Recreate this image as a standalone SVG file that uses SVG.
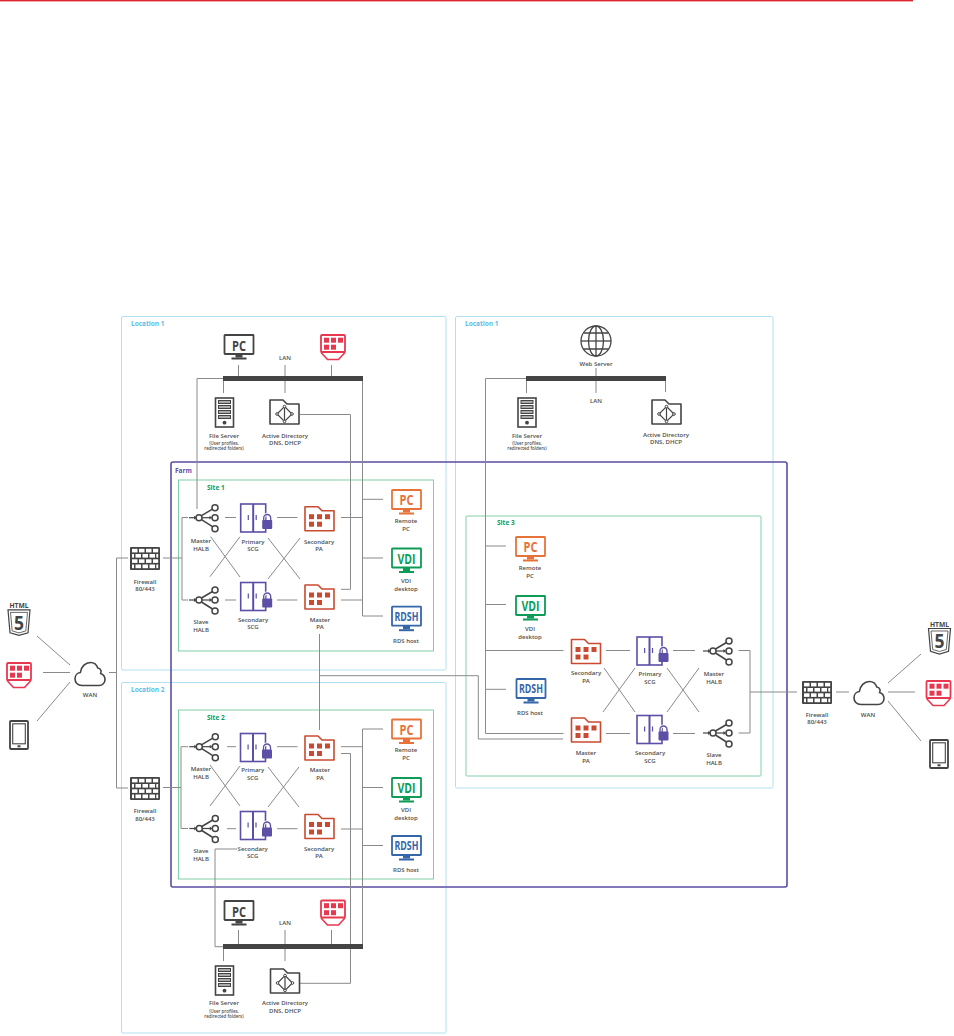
<svg xmlns="http://www.w3.org/2000/svg" width="954" height="1036" viewBox="0 0 954 1036">
<style>
text{font-family:"Open Sans","Liberation Sans",sans-serif}
.l{font-size:6px;font-weight:600;fill:#4d4d4d;text-anchor:middle}
.s{font-size:4.4px;font-weight:600;fill:#4d4d4d;text-anchor:middle}
.t{font-size:6.5px;font-weight:700}
.m{font-weight:700;text-anchor:middle}
.loc{fill:none;stroke:#a9dcf1;stroke-width:.9}
.site{fill:none;stroke:#74c9a0;stroke-width:.9}
.farm{fill:none;stroke:#5b4ea2;stroke-width:1.6}
.c line,.c path{fill:none;stroke:#8a8a8a;stroke-width:1}
.dk{color:#444}.or{color:#e8733a}.gr{color:#0e9b56}.bl{color:#3566a9}.rd{color:#c94a30}.pu{color:#5d4fa5}.pk{color:#e8384f}
</style>
<defs>
<g id="mon"><rect x="1" y="1" width="29" height="19" rx=".5" fill="#fff" stroke="currentColor" stroke-width="1.8"/><rect x="12" y="20" width="7" height="3.5" fill="currentColor"/><rect x="8" y="23.5" width="15" height="2" fill="currentColor"/></g>
<g id="pa"><path d="M1 1H14L18 5H30V25H1Z" fill="#fff" stroke="currentColor" stroke-width="1.6" stroke-linejoin="round"/><g fill="currentColor"><rect x="5" y="8.5" width="5" height="5"/><rect x="13" y="8.5" width="5" height="5"/><rect x="21" y="8.5" width="5" height="5"/><rect x="5" y="16" width="5" height="5"/><rect x="13" y="16" width="5" height="5"/></g></g>
<g id="ad"><path d="M1 1H14L18 5H30V25H1Z" fill="#fff" stroke="currentColor" stroke-width="1.6" stroke-linejoin="round"/><path d="M15.5 7.5L23 15L15.5 22.5L8 15Z" fill="none" stroke="currentColor" stroke-width="1.2"/><line x1="15.5" y1="7" x2="15.5" y2="23" stroke="currentColor" stroke-width="1.2"/><g fill="#fff" stroke="currentColor" stroke-width="1"><circle cx="15.5" cy="7.5" r="1.3"/><circle cx="23" cy="15" r="1.3"/><circle cx="15.5" cy="22.5" r="1.3"/><circle cx="8" cy="15" r="1.3"/></g></g>
<g id="scg"><rect x="1" y="1" width="25" height="28" fill="#fff" stroke="currentColor" stroke-width="1.6"/><line x1="13.5" y1="1" x2="13.5" y2="29" stroke="currentColor" stroke-width="2"/><line x1="8.6" y1="12" x2="8.6" y2="17" stroke="currentColor" stroke-width="1.2"/><line x1="16.5" y1="12" x2="16.5" y2="17" stroke="currentColor" stroke-width="1.2"/><path d="M24 18V15a3.5 3.5 0 0 1 7 0V18" fill="none" stroke="#fff" stroke-width="3"/><path d="M24 18V15a3.5 3.5 0 0 1 7 0V18" fill="none" stroke="currentColor" stroke-width="1.3"/><rect x="22.5" y="17" width="10" height="9" rx="1" fill="currentColor"/></g>
<g id="halb" fill="none" stroke="#444" stroke-width="1.5"><line x1="-10" y1="0" x2="-4" y2="0" stroke-width="1.2"/><path d="M-5 -1.9L-2.5 0L-5 1.9Z" fill="#444" stroke="none"/><line x1="2.5" y1="-2" x2="13.5" y2="-8.5"/><line x1="3" y1="0" x2="11.5" y2="0" stroke-width="1.2"/><path d="M10.5 -1.9L13 0L10.5 1.9Z" fill="#444" stroke="none"/><line x1="2.5" y1="2" x2="13.5" y2="9"/><circle r="3"/><circle cx="16" cy="-10" r="3"/><circle cx="16" cy="0" r="3"/><circle cx="16" cy="11" r="3"/></g>
<g id="fw"><rect x="0" y="0" width="30" height="23" rx="1" fill="#444"/><g fill="#fff"><rect x="2" y="1.8" width="5.5" height="3.6"/><rect x="9" y="1.8" width="5.5" height="3.6"/><rect x="16" y="1.8" width="5.5" height="3.6"/><rect x="23" y="1.8" width="5.2" height="3.6"/><rect x="2" y="7" width="2" height="3.6"/><rect x="5.5" y="7" width="5.5" height="3.6"/><rect x="12.5" y="7" width="5.5" height="3.6"/><rect x="19.5" y="7" width="5.5" height="3.6"/><rect x="26.3" y="7" width="1.9" height="3.6"/><rect x="2" y="12.3" width="5.5" height="3.6"/><rect x="9" y="12.3" width="5.5" height="3.6"/><rect x="16" y="12.3" width="5.5" height="3.6"/><rect x="23" y="12.3" width="5.2" height="3.6"/><rect x="2" y="17.5" width="2" height="3.7"/><rect x="5.5" y="17.5" width="5.5" height="3.7"/><rect x="12.5" y="17.5" width="5.5" height="3.7"/><rect x="19.5" y="17.5" width="5.5" height="3.7"/><rect x="26.3" y="17.5" width="1.9" height="3.7"/></g></g>
<path id="cloud" d="M8 24.5C3.5 24.5 1 21.3 1 17.8C1 14.3 3.4 11.8 6.4 11.5C7 5.8 11.3 1.5 16.5 1.5C20.2 1.5 22.7 3.7 23.8 7C27.4 7.3 27.6 11.5 26.5 12.4C29 13.2 31 15.4 31 18.4C31 21.8 28.5 24.5 25 24.5Z" fill="#fff" stroke="#444" stroke-width="1.6" stroke-linejoin="round"/>
<g id="srv" stroke="#444"><rect x="1" y="1" width="18" height="29" fill="#fff" stroke-width="1.6"/><g fill="#aaa" stroke-width="1"><rect x="4" y="3.5" width="12" height="3"/><rect x="4" y="8.5" width="12" height="3"/><rect x="4" y="13.5" width="12" height="3"/><rect x="4" y="18.5" width="12" height="3"/></g><circle cx="10" cy="25.7" r="1.9" fill="#444" stroke="none"/></g>
<g id="gw" color="#e8384f"><rect x="1" y="1" width="24" height="17" rx="1" fill="#fff" stroke="currentColor" stroke-width="1.8"/><path d="M1.5 18V19L7.5 25.5H18.5L24.5 19V18" fill="none" stroke="currentColor" stroke-width="1.6"/><g fill="currentColor"><rect x="4" y="3.7" width="5" height="5"/><rect x="11" y="3.7" width="5" height="5"/><rect x="18" y="3.7" width="5" height="5"/><rect x="4" y="10.7" width="5" height="5"/><rect x="11" y="10.7" width="5" height="5"/></g></g>
<g id="tab"><rect x="1" y="1" width="18" height="28" rx="1" fill="#fff" stroke="#444" stroke-width="1.8"/><rect x="3.7" y="3.8" width="12.6" height="20" fill="none" stroke="#444" stroke-width="1.1"/><rect x="8.5" y="25.3" width="3" height="2" fill="#444"/></g>
<g id="sh" fill="#fff" stroke="#444"><path d="M.5 7.2H22.5L20.5 30L11.5 32.7L2.5 30Z" stroke-width="1.2"/><path d="M3 9.7H20L18.3 28.2L11.5 30.2L4.7 28.2Z" fill="none" stroke-width=".8"/></g>
<g id="globe" fill="none" stroke="#444" stroke-width="1.3"><circle r="15"/><ellipse rx="7.5" ry="15"/><line x1="0" y1="-15" x2="0" y2="15"/><line x1="-15" y1="0" x2="15" y2="0"/><path d="M-12.5 -8H12.5M-12.5 8H12.5"/></g>
</defs>
<rect width="954" height="1036" fill="#fff"/>
<rect x="0" y="0" width="913" height="1.4" fill="#dd2530"/>

<g id="containers">
<rect class="loc" x="121.5" y="316.5" width="324.5" height="353.5" rx="1.5"/>
<rect class="loc" x="121.5" y="682.5" width="324.5" height="350.5" rx="1.5"/>
<rect class="loc" x="455.5" y="316.5" width="317.5" height="471.5" rx="1.5"/>
<rect class="site" x="178.5" y="480" width="255" height="171"/>
<rect class="site" x="178.5" y="710" width="255" height="169"/>
<rect class="site" x="466" y="516" width="295" height="260" rx="1"/>
<rect class="farm" x="171" y="462" width="616" height="425" rx="2"/>
<text class="t" x="131" y="325.5" fill="#5cbbe6">Location 1</text>
<text class="t" x="131" y="691.5" fill="#5cbbe6">Location 2</text>
<text class="t" x="465" y="325.5" fill="#5cbbe6">Location 1</text>
<text class="t" x="175" y="472.5" fill="#5d4fa5">Farm</text>
<text class="t" x="207" y="489.5" fill="#0e9b56">Site 1</text>
<text class="t" x="207" y="719.5" fill="#0e9b56">Site 2</text>
<text class="t" x="497" y="525" fill="#0e9b56">Site 3</text>
</g>

<g id="connectors" class="c">
<path d="M37 636L70 665M43 672.5H70M37 721L70 682"/>
<path d="M109 672.5H116.5M128 558H116.5V788H128"/>
<path d="M163 558H182M188 517.5H182V600H188M163 787.5H181M188 746.7H181V828.5H188"/>
<!-- site 1 -->
<path d="M225 517.5H236M225 600H236M277 517.5H297.5M277 600H297.5M341 517.5H362.5M341 600H362.5"/>
<path d="M210.7 536.7L240 577M240 536.7L210 576.7M268 538L300 579M300 538L268 579"/>
<path d="M362.5 378V616H383M362.5 499.3H383M362.5 558H383"/>
<path d="M300 414.5H350.5V589.3H341"/>
<path d="M319.5 634V730M319.5 675.7H478.3V739H563"/>
<path d="M238.5 365V376M285 365V393M331.5 365V376M223.5 381V393"/>
<path d="M223 378.5H197V509"/>
<!-- site 2 -->
<path d="M227 746.7H236M227 828.7H236M277 746.7H297.5M277 828.7H297.5M341 746.7H362.5M341 829H362.5"/>
<path d="M210 765L240 806M240 766L210 806M268 767L299 807M299 767L268 807"/>
<path d="M362.5 946V729H383M362.5 787.5H383M362.5 845.5H383"/>
<path d="M341 753.5H350.5V983.3H300"/>
<path d="M237 849H215V946.7H223"/>
<path d="M238.5 930V944M285 930V961M331.5 930V944M223.5 949V961"/>
<!-- site 3 -->
<path d="M526 378.5H485.5V733.5H563.5M485.5 650.5H563.5M485.5 546H506M485.5 604.5H506M485.5 689.3H506"/>
<path d="M596 368V393M526.5 381V393M665.5 381V392"/>
<path d="M606 650.5H630M606 733.5H630M673 650.5H695M673 733.5H695"/>
<path d="M603 712L635 668M604 668L635 712M667 712L699 668M667 668L699 712"/>
<path d="M738.5 650.5H750V733H738.5M750 692H797M836 692H849"/>
<path d="M888 683L921 654M888 692H915M888 701L921 741"/>
</g>
<rect id="bus-1" x="223" y="376" width="140" height="5" fill="#444"/>
<rect id="bus-2" x="526" y="376" width="140" height="5" fill="#444"/>
<rect id="bus-3" x="223" y="944" width="140" height="5" fill="#444"/>

<!-- left clients -->
<g id="client-l-html"><use href="#sh" x="7.5" y="602.7"/><text class="m" x="19" y="608" font-size="6.5" fill="#444" textLength="19" lengthAdjust="spacingAndGlyphs">HTML</text><text class="m" x="19" y="629.5" font-size="20" fill="#444" textLength="10" lengthAdjust="spacingAndGlyphs">5</text></g>
<g id="client-l-gw"><use href="#gw" x="6" y="662"/></g>
<g id="client-l-tab"><use href="#tab" x="9" y="720"/></g>
<g id="wan-l"><use href="#cloud" x="74" y="661"/><text class="l" x="90" y="697">WAN</text></g>
<g id="fw-1"><use href="#fw" x="130" y="547"/><text class="l" x="145" y="583.5">Firewall</text><text class="l" x="145" y="591">80/443</text></g>
<g id="fw-2"><use href="#fw" x="130" y="777"/><text class="l" x="145" y="813">Firewall</text><text class="l" x="145" y="821">80/443</text></g>

<!-- location 1 top -->
<g id="pc-1" class="dk"><use href="#mon" x="223.5" y="334"/><text class="m" x="239" y="351" font-size="14" fill="#444" textLength="14" lengthAdjust="spacingAndGlyphs">PC</text></g>
<g id="gw-1"><use href="#gw" x="320" y="334"/></g>
<text id="lan-1" class="l" x="285" y="360">LAN</text>
<g id="fs-1"><use href="#srv" x="214.5" y="397"/><text class="l" x="224" y="437.5">File Server</text><text class="s" x="224" y="444.5">(User profiles,</text><text class="s" x="224" y="449.5">redirected folders)</text></g>
<g id="ad-1" class="dk"><use href="#ad" x="269" y="399"/><text class="l" x="285" y="437.5">Active Directory</text><text class="l" x="285" y="444.5">DNS, DHCP</text></g>

<!-- site 1 -->
<g id="halb-1m"><use href="#halb" x="199" y="517.7"/><text class="l" x="201" y="542.7">Master</text><text class="l" x="201" y="550.7">HALB</text></g>
<g id="halb-1s"><use href="#halb" x="199" y="600"/><text class="l" x="201" y="624">Slave</text><text class="l" x="201" y="632">HALB</text></g>
<g id="scg-1p" class="pu"><use href="#scg" x="239.7" y="503"/><text class="l" x="253" y="543.5">Primary</text><text class="l" x="253" y="551">SCG</text></g>
<g id="scg-1s" class="pu"><use href="#scg" x="239.7" y="581.5"/><text class="l" x="253" y="622">Secondary</text><text class="l" x="253" y="629">SCG</text></g>
<g id="pa-1s" class="rd"><use href="#pa" x="304" y="505.7"/><text class="l" x="319" y="543.5">Secondary</text><text class="l" x="319" y="551">PA</text></g>
<g id="pa-1m" class="rd"><use href="#pa" x="304" y="584"/><text class="l" x="320" y="622">Master</text><text class="l" x="320" y="629">PA</text></g>
<g id="pc-r1" class="or"><use href="#mon" x="391" y="489"/><text class="m" x="406.5" y="505" font-size="14" fill="#e8733a" textLength="14" lengthAdjust="spacingAndGlyphs">PC</text><text class="l" x="406" y="523">Remote</text><text class="l" x="406" y="530.5">PC</text></g>
<g id="vdi-1" class="gr"><use href="#mon" x="391" y="547.5"/><text class="m" x="406.5" y="563.5" font-size="14" fill="#0e9b56" textLength="18" lengthAdjust="spacingAndGlyphs">VDI</text><text class="l" x="406" y="583">VDI</text><text class="l" x="406" y="591">desktop</text></g>
<g id="rdsh-1" class="bl"><use href="#mon" x="391" y="605.7"/><text class="m" x="406.5" y="620.5" font-size="12" fill="#3566a9" textLength="24" lengthAdjust="spacingAndGlyphs">RDSH</text><text class="l" x="406" y="643">RDS host</text></g>

<!-- site 2 -->
<g id="halb-2m"><use href="#halb" x="199.3" y="746.7"/><text class="l" x="201" y="771">Master</text><text class="l" x="201" y="779">HALB</text></g>
<g id="halb-2s"><use href="#halb" x="199.3" y="828.5"/><text class="l" x="201" y="853">Slave</text><text class="l" x="201" y="861">HALB</text></g>
<g id="scg-2p" class="pu"><use href="#scg" x="239.5" y="732.5"/><text class="l" x="252.7" y="772">Primary</text><text class="l" x="252.7" y="780">SCG</text></g>
<g id="scg-2s" class="pu"><use href="#scg" x="239.5" y="810.5"/><text class="l" x="252.7" y="851">Secondary</text><text class="l" x="252.7" y="858">SCG</text></g>
<g id="pa-2m" class="rd"><use href="#pa" x="304" y="735"/><text class="l" x="320" y="772">Master</text><text class="l" x="320" y="780">PA</text></g>
<g id="pa-2s" class="rd"><use href="#pa" x="304" y="813.5"/><text class="l" x="319" y="851">Secondary</text><text class="l" x="319" y="858">PA</text></g>
<g id="pc-r2" class="or"><use href="#mon" x="391" y="718.5"/><text class="m" x="406.5" y="734.5" font-size="14" fill="#e8733a" textLength="14" lengthAdjust="spacingAndGlyphs">PC</text><text class="l" x="406" y="752">Remote</text><text class="l" x="406" y="760">PC</text></g>
<g id="vdi-2" class="gr"><use href="#mon" x="391" y="777"/><text class="m" x="406.5" y="793" font-size="14" fill="#0e9b56" textLength="18" lengthAdjust="spacingAndGlyphs">VDI</text><text class="l" x="406" y="812">VDI</text><text class="l" x="406" y="820">desktop</text></g>
<g id="rdsh-2" class="bl"><use href="#mon" x="391" y="835"/><text class="m" x="406.5" y="850" font-size="12" fill="#3566a9" textLength="24" lengthAdjust="spacingAndGlyphs">RDSH</text><text class="l" x="406" y="872">RDS host</text></g>

<!-- location 2 bottom -->
<g id="pc-3" class="dk"><use href="#mon" x="223.5" y="900"/><text class="m" x="239" y="917" font-size="14" fill="#444" textLength="14" lengthAdjust="spacingAndGlyphs">PC</text></g>
<g id="gw-3"><use href="#gw" x="320" y="899.5"/></g>
<text id="lan-3" class="l" x="285" y="925">LAN</text>
<g id="fs-3"><use href="#srv" x="214.5" y="965"/><text class="l" x="224" y="1005">File Server</text><text class="s" x="224" y="1012.5">(User profiles,</text><text class="s" x="224" y="1017.5">redirected folders)</text></g>
<g id="ad-3" class="dk"><use href="#ad" x="269.5" y="968"/><text class="l" x="285" y="1005">Active Directory</text><text class="l" x="285" y="1013">DNS, DHCP</text></g>

<!-- right location -->
<g id="web"><use href="#globe" x="596" y="341"/><text class="l" x="596" y="365.5">Web Server</text></g>
<text id="lan-2" class="l" x="596" y="403">LAN</text>
<g id="fs-2"><use href="#srv" x="517" y="397"/><text class="l" x="527" y="437.5">File Server</text><text class="s" x="527" y="444.5">(User profiles,</text><text class="s" x="527" y="449.5">redirected folders)</text></g>
<g id="ad-2" class="dk"><use href="#ad" x="651" y="399"/><text class="l" x="666" y="437">Active Directory</text><text class="l" x="666" y="444">DNS, DHCP</text></g>

<!-- site 3 -->
<g id="pc-r3" class="or"><use href="#mon" x="515" y="536"/><text class="m" x="530.5" y="552" font-size="14" fill="#e8733a" textLength="14" lengthAdjust="spacingAndGlyphs">PC</text><text class="l" x="530" y="570">Remote</text><text class="l" x="530" y="578">PC</text></g>
<g id="vdi-3" class="gr"><use href="#mon" x="515" y="595"/><text class="m" x="530.5" y="611" font-size="14" fill="#0e9b56" textLength="18" lengthAdjust="spacingAndGlyphs">VDI</text><text class="l" x="530" y="630.5">VDI</text><text class="l" x="530" y="638.5">desktop</text></g>
<g id="rdsh-3" class="bl"><use href="#mon" x="515.5" y="678"/><text class="m" x="531" y="693" font-size="12" fill="#3566a9" textLength="24" lengthAdjust="spacingAndGlyphs">RDSH</text><text class="l" x="530" y="715">RDS host</text></g>
<g id="pa-3s" class="rd"><use href="#pa" x="570.5" y="638.5"/><text class="l" x="586" y="675">Secondary</text><text class="l" x="586" y="682.5">PA</text></g>
<g id="pa-3m" class="rd"><use href="#pa" x="570.5" y="717"/><text class="l" x="586" y="755">Master</text><text class="l" x="586" y="762.5">PA</text></g>
<g id="scg-3p" class="pu"><use href="#scg" x="636" y="636"/><text class="l" x="650" y="676">Primary</text><text class="l" x="650" y="684">SCG</text></g>
<g id="scg-3s" class="pu"><use href="#scg" x="636" y="714.5"/><text class="l" x="650" y="755">Secondary</text><text class="l" x="650" y="762.5">SCG</text></g>
<g id="halb-3m"><use href="#halb" x="713" y="651"/><text class="l" x="714" y="676">Master</text><text class="l" x="714" y="683.5">HALB</text></g>
<g id="halb-3s"><use href="#halb" x="713" y="733"/><text class="l" x="714" y="757">Slave</text><text class="l" x="714" y="765">HALB</text></g>

<!-- right clients -->
<g id="fw-3"><use href="#fw" x="802" y="681"/><text class="l" x="817" y="716.5">Firewall</text><text class="l" x="817" y="724">80/443</text></g>
<g id="wan-r"><use href="#cloud" x="853" y="680"/><text class="l" x="868" y="716.5">WAN</text></g>
<g id="client-r-html"><use href="#sh" x="928" y="621.3"/><text class="m" x="939.5" y="626.6" font-size="6.5" fill="#444" textLength="19" lengthAdjust="spacingAndGlyphs">HTML</text><text class="m" x="939.5" y="648" font-size="20" fill="#444" textLength="10" lengthAdjust="spacingAndGlyphs">5</text></g>
<g id="client-r-gw"><use href="#gw" x="925.5" y="680"/></g>
<g id="client-r-tab"><use href="#tab" x="929" y="739"/></g>
</svg>
